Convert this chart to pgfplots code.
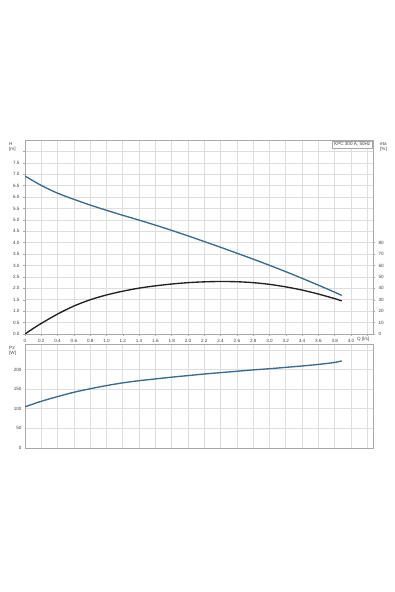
\documentclass[border=0pt]{standalone}
\usepackage{pgfplots}
\pgfplotsset{compat=1.18}
\usepackage{fontspec}
\setmainfont{Liberation Sans}
\definecolor{hblue}{HTML}{3B6C8E}
\definecolor{effc}{HTML}{222222}
\definecolor{gridc}{HTML}{DEDEDE}
\definecolor{framec}{HTML}{A8A8A8}
\pgfplotsset{
  common/.style={
    scale only axis, width=348pt, xmin=0, xmax=4.27,
    xtick={0,0.2,0.4,0.6,0.8,1.0,1.2,1.4,1.6,1.8,2.0,2.2,2.4,2.6,2.8,3.0,3.2,3.4,3.6,3.8,4.0,4.2},
    grid=major, major grid style={gridc, line width=0.6pt},
    axis line style={framec, line width=0.7pt},
    tick style={framec, line width=0.5pt}, tick align=outside, major tick length=2pt,
    tick label style={font=\fontsize{4.6}{5}\selectfont, text=black!75},
    /pgf/number format/assume math mode=true,
    xtick pos=bottom, ytick pos=left,
  }
}
\begin{document}
\begin{tikzpicture}[x=1pt,y=1pt]
\useasboundingbox (0,0) rectangle (395,592);
% top axis: H
\begin{axis}[common, at={(25pt,258pt)}, anchor=south west, height=194pt,
  ymin=0, ymax=8.5,
  ytick={0,0.5,1,1.5,2,2.5,3,3.5,4,4.5,5,5.5,6,6.5,7,7.5,8},
  yticklabels={0.0,0.5,1.0,1.5,2.0,2.5,3.0,3.5,4.0,4.5,5.0,5.5,6.0,6.5,7.0,7.5,},
  xticklabels={0,0.2,0.4,0.6,0.8,1.0,1.2,1.4,1.6,1.8,2.0,2.2,2.4,2.6,2.8,3.0,3.2,3.4,3.6,3.8,4.0,},
  xticklabel style={yshift=0.5pt}]
\addplot[hblue, line width=1.35pt, smooth] coordinates {
(0,6.92) (0.2,6.51) (0.4,6.17) (0.6,5.9) (0.8,5.65) (1.0,5.42) (1.2,5.2) (1.4,4.99)
(1.6,4.77) (1.8,4.54) (2.0,4.3) (2.2,4.05) (2.4,3.8) (2.6,3.54) (2.8,3.28) (3.0,3.01)
(3.2,2.73) (3.4,2.44) (3.6,2.14) (3.8,1.83) (3.886,1.69)};
\end{axis}
% eta axis (right)
\begin{axis}[common, at={(25pt,258pt)}, anchor=south west, height=194pt,
  grid=none, axis x line=none, axis y line*=right, ytick pos=right,
  ymin=0, ymax=170, ytick={0,10,20,30,40,50,60,70,80}]
\addplot[effc, line width=1.35pt, smooth] coordinates {
(0,0) (0.1,4.8) (0.2,9.3) (0.4,17.5) (0.6,24.5) (0.8,30) (1.0,34.2) (1.2,37.5)
(1.4,40.2) (1.6,42.2) (1.8,43.8) (2.0,45) (2.2,45.7) (2.4,46) (2.6,45.8) (2.8,45)
(3.0,43.5) (3.2,41.3) (3.4,38.5) (3.6,35) (3.8,31) (3.886,29)};
\end{axis}
% bottom axis: P2
\begin{axis}[common, at={(25pt,144pt)}, anchor=south west, height=104pt,
  ymin=0, ymax=265, ytick={0,50,100,150,200,250},
  yticklabels={0,50,100,150,200,}, xticklabels={}, major tick length=0pt]
\addplot[hblue, line width=1.35pt, smooth] coordinates {
(0,105) (0.2,119) (0.4,131) (0.6,142) (0.8,151) (1.0,159) (1.2,166) (1.4,171.5)
(1.6,176) (1.8,180.5) (2.0,184.5) (2.2,188.5) (2.4,192) (2.6,195.5) (2.8,199)
(3.0,202) (3.2,205.5) (3.4,209) (3.6,213) (3.8,218) (3.886,222)};
\end{axis}
\begin{scope}[every node/.style={font=\fontsize{4.6}{5}\selectfont, text=black!75, inner sep=0pt, align=left}]
\node[anchor=north west] at (9,450) {H\\{[m]}};
\node[anchor=north west] at (380,450) {eta\\{[\%]}};
\node[anchor=north west] at (9,246) {P2\\{[W]}};
\node[anchor=west] at (357,252.5) {Q [l/s]};
\node[anchor=north east, draw=framec, fill=white, inner sep=1.5pt, line width=0.5pt] at (372,451) {KPC 300 A, 50Hz};
\end{scope}
\end{tikzpicture}
\end{document}
